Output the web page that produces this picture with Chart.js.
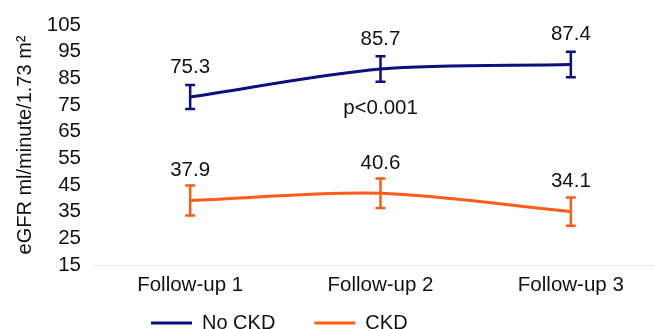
<!DOCTYPE html>
<html>
<head>
<meta charset="utf-8">
<script src="https://cdn.jsdelivr.net/npm/chart.js@4/dist/chart.umd.min.js"></script>
<style>
  html, body { margin: 0; padding: 0; background: #fff; }
  #wrap { width: 655px; height: 329px; overflow: hidden; position: relative; }
  #egfr-chart { position: absolute; left: 0; top: 0; }
</style>
</head>
<body>
<div id="wrap"><canvas id="egfr-chart" width="667" height="374"></canvas></div>
<script>
const FONT = "'Liberation Sans', Arial, sans-serif";

const visits = ["Follow-up 1", "Follow-up 2", "Follow-up 3"];
const yTicks = [15, 25, 35, 45, 55, 65, 75, 85, 95, 105];

// plotted means and their error bar half-lengths
const noCkd = [78.0, 88.5, 90.2];
const noCkdErr = [4.5, 4.8, 4.8];
const ckd = [39.2, 41.9, 35.0];
const ckdErr = [5.6, 5.5, 5.3];

// the numbers printed above each point (as they appear on the figure)
const noCkdText = ["75.3", "85.7", "87.4"];
const ckdText = ["37.9", "40.6", "34.1"];

const pNote = { text: "p<0.001", visit: 1, value: 73.6 };

const errBars = {
  id: "errBars",
  afterDatasetsDraw(chart) {
    const ctx = chart.ctx;
    const y = chart.scales.y;
    chart.data.datasets.forEach((ds, i) => {
      const meta = chart.getDatasetMeta(i);
      ctx.save();
      ctx.strokeStyle = ds.borderColor;
      ctx.lineWidth = 2.5;
      meta.data.forEach((pt, j) => {
        const top = y.getPixelForValue(ds.data[j] + ds.err[j]);
        const bot = y.getPixelForValue(ds.data[j] - ds.err[j]);
        ctx.beginPath();
        ctx.moveTo(pt.x, top); ctx.lineTo(pt.x, bot);
        ctx.moveTo(pt.x - 5, top); ctx.lineTo(pt.x + 5, top);
        ctx.moveTo(pt.x - 5, bot); ctx.lineTo(pt.x + 5, bot);
        ctx.stroke();
      });
      // value text sits ~30px above each point
      ctx.fillStyle = "#111";
      ctx.font = "20.5px " + FONT;
      ctx.textAlign = "center";
      ctx.textBaseline = "middle";
      meta.data.forEach((pt, j) => ctx.fillText(ds.shown[j], pt.x, pt.y - 30));
      ctx.restore();
    });

    const xp = chart.scales.x.getPixelForValue(pNote.visit);
    ctx.save();
    ctx.fillStyle = "#111";
    ctx.font = "20.5px " + FONT;
    ctx.textAlign = "center";
    ctx.textBaseline = "middle";
    ctx.fillText(pNote.text, xp, y.getPixelForValue(pNote.value));
    ctx.restore();
  }
};

// Excel left the legend low and to the left, move the legend box there
const legendNudge = {
  id: "legendNudge",
  afterLayout(chart) {
    const lg = chart.legend;
    const dx = 112 - lg.left, dy = 274 - lg.top;
    lg.left += dx; lg.right += dx;
    lg.top += dy; lg.bottom += dy;
  }
};

new Chart(document.getElementById("egfr-chart"), {
  type: "line",
  data: {
    labels: visits,
    datasets: [
      {
        label: "No CKD",
        data: noCkd,
        err: noCkdErr,
        shown: noCkdText,
        borderColor: "#0b0f7f",
        backgroundColor: "#0b0f7f",
        borderWidth: 3,
        tension: 0.3,
        pointRadius: 0
      },
      {
        label: "CKD",
        data: ckd,
        err: ckdErr,
        shown: ckdText,
        borderColor: "#ff5c1a",
        backgroundColor: "#ff5c1a",
        borderWidth: 3,
        tension: 0.3,
        pointRadius: 0
      }
    ]
  },
  options: {
    responsive: false,
    animation: false,
    layout: { padding: { top: 25, right: 1, left: 0, bottom: 0 } },
    plugins: {
      tooltip: { enabled: false },
      legend: {
        position: "bottom",
        align: "start",
        labels: {
          usePointStyle: true,
          pointStyle: "line",
          pointStyleWidth: 41,
          padding: 39,
          color: "#111",
          font: { family: FONT, size: 20 }
        }
      }
    },
    scales: {
      x: {
        offset: true,
        grid: { display: false, offset: true },
        border: { display: true, color: "#dfe6e6", width: 1 },
        ticks: { color: "#111", padding: 0, font: { family: FONT, size: 20.5 } },
        afterFit: s => { s.height = 40; }
      },
      y: {
        min: 15,
        max: 105,
        afterBuildTicks: s => { s.ticks = yTicks.map(v => ({ value: v })); },
        afterFit: s => { s.width = 95; },
        grid: { display: false },
        border: { display: false },
        ticks: { color: "#111", padding: 6, autoSkip: false, font: { family: FONT, size: 20.5 } },
        title: {
          display: true,
          text: "eGFR ml/minute/1.73 m²",
          color: "#111",
          padding: { top: 13.5, bottom: 0 },
          font: { family: FONT, size: 20 }
        }
      }
    }
  },
  plugins: [errBars, legendNudge]
});
</script>
</body>
</html>
